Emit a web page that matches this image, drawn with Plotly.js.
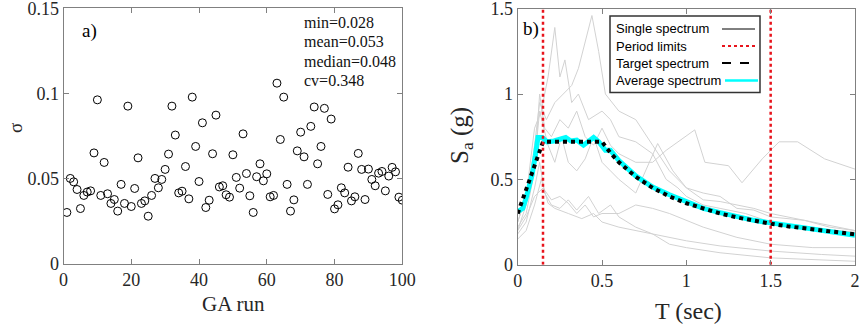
<!DOCTYPE html>
<html>
<head>
<meta charset="utf-8">
<script src="https://cdn.plot.ly/plotly-3.0.1.min.js"></script>
<style>html,body{margin:0;padding:0;background:#fff;}#chart{width:861px;height:328px;}</style>
</head>
<body>
<div id="chart"></div>
<script>
// ---------- Panel a) data ----------
const gaRun = Array.from({length: 100}, (_, i) => i + 1);
const rho = [
  0.030, 0.050, 0.048, 0.0435, 0.0323, 0.040, 0.042, 0.0427, 0.065, 0.0962,
  0.040, 0.0594, 0.041, 0.0353, 0.0376, 0.0308, 0.0465, 0.0353, 0.0925, 0.0335,
  0.0441, 0.0621, 0.0353, 0.0368, 0.0278, 0.040, 0.050, 0.0445, 0.0494, 0.0553,
  0.0643, 0.0925, 0.0755, 0.0415, 0.0425, 0.057, 0.038, 0.0978, 0.0688, 0.0482,
  0.0827, 0.0329, 0.0372, 0.0645, 0.0872, 0.045, 0.0457, 0.0404, 0.039, 0.0639,
  0.0506, 0.0443, 0.0762, 0.0529, 0.0398, 0.030, 0.051, 0.0586, 0.0486, 0.0527,
  0.0392, 0.040, 0.106, 0.0729, 0.0978, 0.0465, 0.0308, 0.0374, 0.0662, 0.0772,
  0.0627, 0.0465, 0.0806, 0.092, 0.0586, 0.0688, 0.0912, 0.0406, 0.0849, 0.0321,
  0.0345, 0.0445, 0.0415, 0.0566, 0.0368, 0.0392, 0.0647, 0.0553, 0.0376, 0.0555,
  0.0494, 0.0457, 0.0531, 0.0541, 0.0427, 0.0514, 0.0565, 0.0539, 0.039, 0.0372
];
const statsText = ["min=0.028", "mean=0.053", "median=0.048", "cv=0.348"];
const xTicksA = [0, 20, 40, 60, 80, 100];
const yTicksA = [0, 0.05, 0.1, 0.15];

// ---------- Panel b) data ----------
const s1T = [0, 0.05, 0.1, 0.13, 0.17, 0.22, 0.27, 0.32, 0.36, 0.4, 0.44, 0.48, 0.52, 0.6, 0.7, 0.8, 0.9, 1.0, 1.1, 1.2, 1.3, 1.4, 1.5, 1.7, 1.85, 2.0];
const s1Sa = [0.2, 0.35, 0.7, 0.95, 0.85, 0.95, 1.0, 1.05, 1.15, 1.3, 1.46, 1.25, 1.0, 0.9, 0.85, 0.7, 0.55, 0.45, 0.38, 0.37, 0.35, 0.33, 0.3, 0.26, 0.22, 0.2];
const s2T = [0, 0.05, 0.1, 0.14, 0.18, 0.22, 0.25, 0.28, 0.32, 0.36, 0.42, 0.5, 0.55, 0.6, 0.7, 0.8, 0.88, 0.95, 1.0, 1.1, 1.2, 1.35, 1.5, 1.7, 2.0];
const s2Sa = [0.25, 0.4, 0.8, 0.9, 1.1, 1.39, 1.1, 1.2, 0.95, 1.0, 0.85, 0.9, 0.85, 0.75, 0.72, 0.65, 0.5, 0.45, 0.4, 0.35, 0.33, 0.3, 0.25, 0.22, 0.19];
const s3T = [0, 0.05, 0.1, 0.13, 0.16, 0.2, 0.25, 0.3, 0.35, 0.4, 0.45, 0.5, 0.55, 0.6, 0.7, 0.8, 0.88, 0.95, 1.05, 1.11, 1.25, 1.33, 1.45, 1.55, 1.66, 1.82, 2.0];
const s3Sa = [0.22, 0.3, 0.55, 1.0, 0.8, 0.75, 0.85, 0.8, 0.9, 0.75, 0.7, 0.8, 0.7, 0.65, 0.6, 0.6, 0.67, 0.72, 0.79, 0.6, 0.58, 0.48, 0.62, 0.72, 0.72, 0.62, 0.56];
const s4T = [0, 0.05, 0.1, 0.13, 0.16, 0.2, 0.25, 0.3, 0.35, 0.42, 0.48, 0.55, 0.6, 0.7, 0.8, 1.0, 1.2, 1.5, 1.8, 2.0];
const s4Sa = [0.18, 0.25, 0.45, 0.6, 0.42, 0.35, 0.33, 0.38, 0.32, 0.4, 0.3, 0.35, 0.28, 0.22, 0.18, 0.14, 0.11, 0.08, 0.06, 0.05];
const s5T = [0, 0.05, 0.1, 0.15, 0.2, 0.25, 0.3, 0.35, 0.4, 0.45, 0.5, 0.6, 0.7, 0.8, 0.9, 1.0, 1.1, 1.3, 1.5, 1.75, 2.0];
const s5Sa = [0.2, 0.28, 0.4, 0.45, 0.38, 0.4, 0.36, 0.3, 0.35, 0.28, 0.3, 0.3, 0.35, 0.33, 0.3, 0.26, 0.22, 0.16, 0.12, 0.1, 0.1];
const s6T = [0, 0.05, 0.1, 0.14, 0.18, 0.22, 0.3, 0.38, 0.45, 0.5, 0.6, 0.7, 0.8, 0.9, 1.0, 1.2, 1.5, 2.0];
const s6Sa = [0.15, 0.2, 0.35, 0.5, 0.36, 0.33, 0.3, 0.27, 0.3, 0.25, 0.22, 0.2, 0.18, 0.12, 0.1, 0.07, 0.04, 0.02];
const s7T = [0, 0.05, 0.1, 0.13, 0.18, 0.22, 0.26, 0.3, 0.35, 0.4, 0.45, 0.5, 0.55, 0.6, 0.7, 0.83, 0.92, 1.0, 1.1, 1.2, 1.3, 1.4, 1.5, 1.7, 2.0];
const s7Sa = [0.25, 0.4, 0.6, 0.9, 0.7, 0.6, 0.75, 0.6, 0.55, 0.62, 0.75, 0.6, 0.55, 0.5, 0.42, 0.71, 0.55, 0.45, 0.42, 0.4, 0.33, 0.32, 0.28, 0.26, 0.2];

const targetT = [0, 0.15, 0.5, 0.55, 0.6, 0.7, 0.8, 0.9, 1.0, 1.1, 1.2, 1.3, 1.4, 1.5, 1.6, 1.7, 1.8, 1.9, 2.0];
const targetSa = [0.30, 0.72, 0.72, 0.655, 0.60, 0.515, 0.45, 0.40, 0.36, 0.327, 0.30, 0.277, 0.257, 0.24, 0.225, 0.212, 0.20, 0.19, 0.178];
const avgT = [0, 0.03, 0.05, 0.085, 0.105, 0.12, 0.145, 0.175, 0.215, 0.245, 0.285, 0.315, 0.35, 0.39, 0.42, 0.45, 0.48, 0.52, 0.55, 0.6, 0.7, 0.8, 0.9, 0.95, 1.0, 1.1, 1.2, 1.3, 1.4, 1.5, 1.6, 1.7, 1.8, 1.9, 2.0];
const avgSa = [0.31, 0.33, 0.39, 0.525, 0.64, 0.745, 0.745, 0.72, 0.725, 0.735, 0.745, 0.725, 0.73, 0.70, 0.725, 0.745, 0.72, 0.67, 0.67, 0.61, 0.52, 0.455, 0.41, 0.39, 0.37, 0.33, 0.305, 0.28, 0.26, 0.245, 0.23, 0.215, 0.2, 0.19, 0.172];
const periodLimits = [0.15, 1.5];
const saRange = [0, 1.5];
const xTicksB = [0, 0.5, 1, 1.5, 2];
const yTicksB = [0, 0.5, 1, 1.5];
const legendLabels = ["Single spectrum", "Period limits", "Target spectrum", "Average spectrum"];

// ---------- Geometry helpers ----------
const W = 861, H = 328;
const px = x => x / W;
const py = y => 1 - y / H;

const serif = "Liberation Serif, Times New Roman, serif";
const sans = "Liberation Sans, Arial, sans-serif";
const frame = "#808080";

const singles = [[s1T, s1Sa], [s2T, s2Sa], [s3T, s3Sa], [s4T, s4Sa], [s5T, s5Sa], [s6T, s6Sa], [s7T, s7Sa]];

const traces = [];
traces.push({
  x: gaRun, y: rho, type: "scatter", mode: "markers", xaxis: "x", yaxis: "y",
  marker: {symbol: "circle-open", size: 8, color: "#000", line: {width: 1, color: "#000"}},
  hoverinfo: "skip"
});
singles.forEach(s => traces.push({
  x: s[0], y: s[1], type: "scatter", mode: "lines", xaxis: "x2", yaxis: "y2",
  line: {color: "#d2d2d2", width: 1}, hoverinfo: "skip"
}));
traces.push({
  x: avgT, y: avgSa, type: "scatter", mode: "lines", xaxis: "x2", yaxis: "y2",
  line: {color: "#00ffff", width: 5}, hoverinfo: "skip"
});
traces.push({
  x: targetT, y: targetSa, type: "scatter", mode: "lines", xaxis: "x2", yaxis: "y2",
  line: {color: "#000", width: 4, dash: "dot"}, hoverinfo: "skip"
});
periodLimits.forEach(t => traces.push({
  x: [t, t], y: saRange, type: "scatter", mode: "lines", xaxis: "x2", yaxis: "y2",
  line: {color: "#e8141c", width: 2.5, dash: "dot"}, hoverinfo: "skip"
}));

const axBase = {
  showgrid: false, zeroline: false, showline: true, linecolor: frame, linewidth: 1,
  mirror: "ticks", ticks: "inside", ticklen: 5, tickcolor: frame, tickwidth: 1,
  tickfont: {family: serif, size: 18, color: "#262626"}, automargin: false, fixedrange: true,
  ticklabeloverflow: "allow"
};

const annotations = [];
statsText.forEach((t, i) => annotations.push({
  xref: "paper", yref: "paper", x: px(302), y: py([22.5, 41.5, 61, 80][i]),
  xanchor: "left", yanchor: "middle", showarrow: false, text: t,
  font: {family: serif, size: 16, color: "#111"}
}));
annotations.push({xref: "paper", yref: "paper", x: px(89), y: py(31), xanchor: "center", yanchor: "middle",
  showarrow: false, text: "a)", font: {family: serif, size: 19, color: "#000"}});
annotations.push({xref: "paper", yref: "paper", x: px(531), y: py(29), xanchor: "center", yanchor: "middle",
  showarrow: false, text: "b)", font: {family: serif, size: 19, color: "#000"}});
annotations.push({xref: "paper", yref: "paper", x: px(233), y: py(304), xanchor: "center", yanchor: "middle",
  showarrow: false, text: "GA run", font: {family: serif, size: 21, color: "#262626"}});
annotations.push({xref: "paper", yref: "paper", x: px(688), y: py(311), xanchor: "center", yanchor: "middle",
  showarrow: false, text: "T (sec)", font: {family: serif, size: 24, color: "#262626"}});
annotations.push({xref: "paper", yref: "paper", x: px(15), y: py(128), xanchor: "center", yanchor: "middle",
  showarrow: false, textangle: -90, text: "σ", font: {family: serif, size: 19, color: "#262626"}});
annotations.push({xref: "paper", yref: "paper", x: px(462), y: py(136), xanchor: "center", yanchor: "middle",
  showarrow: false, textangle: -90, text: "S<sub>a</sub> (g)", font: {family: serif, size: 25, color: "#262626"}});

// custom legend (symbols on the right of the labels)
const legRows = [29, 46, 63, 80.5];
const shapes = [{
  type: "rect", xref: "paper", yref: "paper", x0: px(610), x1: px(760), y0: py(16), y1: py(92.5),
  line: {color: "#333", width: 1.5}, fillcolor: "#fff", layer: "above"
}];
const legStyles = [
  {color: "#000", width: 1, dash: "solid"},
  {color: "#e8141c", width: 2, dash: "dot"},
  {color: "#000", width: 2, dash: "dash"},
  {color: "#00ffff", width: 2.5, dash: "solid"}
];
legendLabels.forEach((lab, i) => {
  annotations.push({xref: "paper", yref: "paper", x: px(614), y: py(legRows[i]), xanchor: "left", yanchor: "middle",
    showarrow: false, text: lab, font: {family: sans, size: 13, color: "#000"}});
  shapes.push({type: "line", xref: "paper", yref: "paper", x0: px(i === 3 ? 725 : 722), x1: px(i === 3 ? 758 : 755),
    y0: py(legRows[i]), y1: py(legRows[i]), line: legStyles[i], layer: "above"});
});

const layout = {
  width: W, height: H, margin: {l: 0, r: 0, t: 0, b: 0}, showlegend: false,
  paper_bgcolor: "#fff", plot_bgcolor: "#fff",
  xaxis: Object.assign({}, axBase, {domain: [px(63.5), px(402.3)], range: [0, 100], tickvals: xTicksA, anchor: "y"}),
  yaxis: Object.assign({}, axBase, {domain: [py(263.5), py(8.3)], range: [0, 0.15], tickvals: yTicksA, ticktext: ["0", "0.05", "0.1", "0.15"], anchor: "x"}),
  xaxis2: Object.assign({}, axBase, {domain: [px(517.7), px(855)], range: [0, 2], tickvals: xTicksB, anchor: "y2"}),
  yaxis2: Object.assign({}, axBase, {domain: [py(264.7), py(8.7)], range: [0, 1.5], tickvals: yTicksB, anchor: "x2"}),
  annotations: annotations, shapes: shapes
};

Plotly.newPlot("chart", traces, layout, {staticPlot: true, displayModeBar: false});
</script>
</body>
</html>
